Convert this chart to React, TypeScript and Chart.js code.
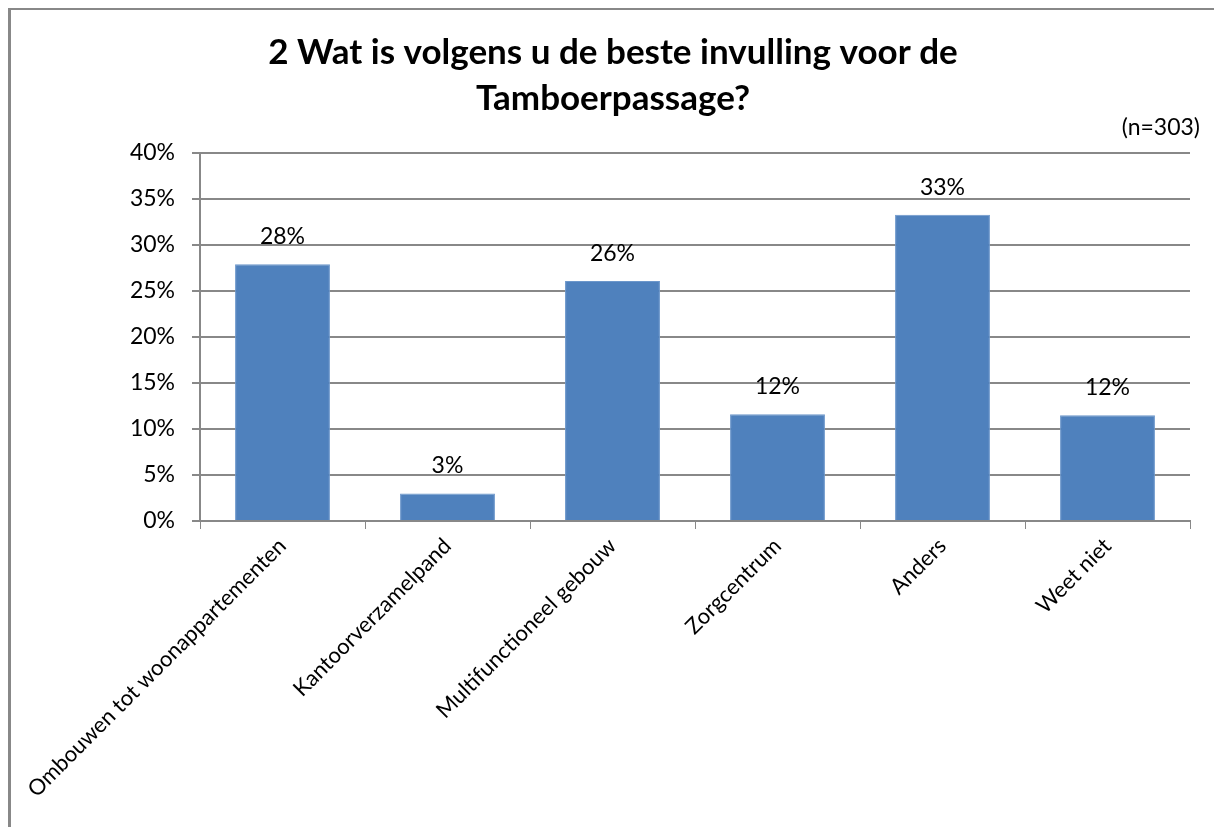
import React, { useEffect, useRef } from "react";
import { Chart, registerables } from "chart.js";

Chart.register(...registerables);

const categories = [
  "Ombouwen tot woonappartementen",
  "Kantoorverzamelpand",
  "Multifunctioneel gebouw",
  "Zorgcentrum",
  "Anders",
  "Weet niet",
];
const values = [27.9, 3.0, 26.1, 11.6, 33.3, 11.5];
const titleLines = ["2 Wat is volgens u de beste invulling voor de", "Tamboerpassage?"];
const subtitleText = "(n=303)";

const FONT = "Lato, 'Noto Sans', sans-serif";

const textPlugin = {
  id: "textPlugin",
  afterDraw(chart: any) {
    const ctx = chart.ctx;
    ctx.save();
    // Title
    ctx.fillStyle = "#000";
    ctx.font = `bold 35px ${FONT}`;
    ctx.textAlign = "center";
    ctx.textBaseline = "alphabetic";
    ctx.fillText(titleLines[0], 613, 64);
    ctx.fillText(titleLines[1], 613, 110);
    // Subtitle
    ctx.font = `23px ${FONT}`;
    ctx.textAlign = "right";
    ctx.fillText(subtitleText, 1200, 135);
    // Data labels
    const meta = chart.getDatasetMeta(0);
    ctx.font = `23px ${FONT}`;
    ctx.textAlign = "center";
    ctx.textBaseline = "alphabetic";
    meta.data.forEach((bar: any, i: number) => {
      ctx.fillText(Math.round(values[i]) + "%", bar.x, bar.y - 20);
    });
    ctx.restore();
  },
};

export default function App() {
  const ref = useRef<HTMLCanvasElement | null>(null);
  useEffect(() => {
    document.body.style.margin = "0";
    const canvas = ref.current;
    if (!canvas) return;
    const chart = new Chart(canvas, {
      type: "bar",
      data: {
        labels: categories,
        datasets: [
          {
            data: values,
            backgroundColor: "#4F81BD",
            borderColor: "#6C97CB",
            borderWidth: 1,
            barPercentage: 0.575,
            categoryPercentage: 1,
          },
        ],
      },
      options: {
        responsive: false,
        animation: false,
        layout: { padding: { top: 153, right: 24, left: 0, bottom: 0 } },
        plugins: {
          legend: { display: false },
          title: { display: false },
          tooltip: { enabled: false },
        },
        scales: {
          x: {
            afterFit: (s: any) => {
              s.height = 306;
            },
            grid: {
              display: true,
              drawOnChartArea: false,
              drawTicks: true,
              tickLength: 8,
              color: "#888888",
              offset: true,
            },
            border: { display: true, color: "#888888", width: 2 },
            ticks: {
              color: "#000",
              font: { family: FONT, size: 22 },
              maxRotation: 45,
              minRotation: 45,
              padding: 4,
              autoSkip: false,
            },
          },
          y: {
            min: 0,
            max: 40,
            afterFit: (s: any) => {
              s.width = 200;
            },
            grid: {
              color: "#888888",
              lineWidth: 2,
              tickLength: 8,
              drawTicks: true,
            },
            border: { display: true, color: "#888888", width: 2 },
            ticks: {
              stepSize: 5,
              color: "#000",
              font: { family: FONT, size: 23 },
              padding: 17,
              callback: (v: any) => v + "%",
            },
          },
        },
      },
      plugins: [textPlugin],
    });
    return () => chart.destroy();
  }, []);
  return (
    <div style={{ position: "relative", width: 1214, height: 827, overflow: "hidden", background: "#fff" }}>
      <canvas ref={ref} width={1214} height={827} style={{ position: "absolute", left: 0, top: 0 }} />
      <div
        style={{
          position: "absolute",
          left: 8,
          top: 8,
          width: 1400,
          height: 1000,
          borderTop: "2px solid #888",
          borderLeft: "3px solid #888",
          pointerEvents: "none",
        }}
      />
    </div>
  );
}
